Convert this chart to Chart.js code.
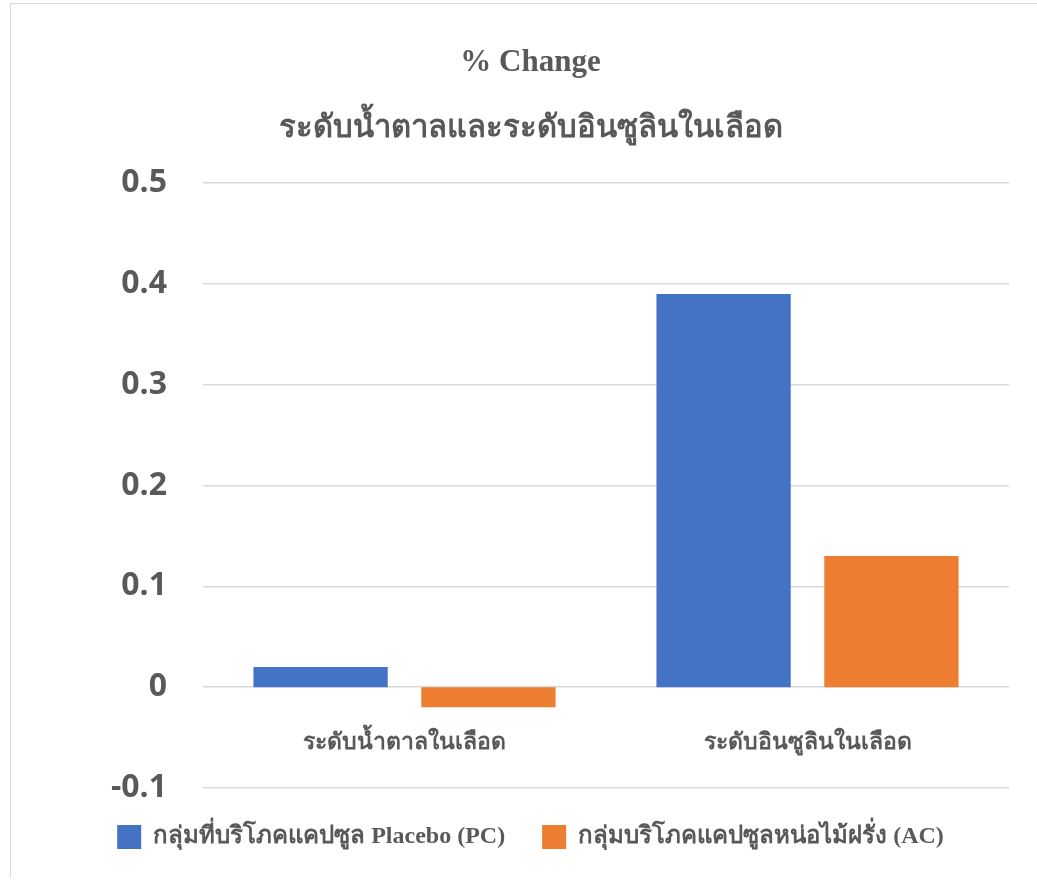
<!DOCTYPE html>
<html lang="th">
<head>
  <meta charset="UTF-8" />
  <title>% Change</title>
  <script src="https://cdn.jsdelivr.net/npm/chart.js"></script>
  <style>
    body {
      margin: 0;
      padding: 0;
      background-color: #ffffff;
      overflow: hidden;
    }
    .chart-container {
      position: absolute;
      left: 10px;
      top: 3px;
      width: 1040px;
      height: 875px;
      border-left: 1px solid #d9d9d9;
      border-top: 1px solid #d9d9d9;
      box-sizing: border-box;
    }
  </style>
</head>
<body>
  <div class="chart-container">
    <canvas id="changeChart"></canvas>
  </div>

  <script>
    const categories = ['ระดับน้ำตาลในเลือด', 'ระดับอินซูลินในเลือด'];
    const placeboValues = [0.02, 0.39];
    const bambooValues = [-0.02, 0.13];
    const seriesNames = ['กลุ่มที่บริโภคแคปซูล Placebo (PC)', 'กลุ่มบริโภคแคปซูลหน่อไม้ฝรั่ง (AC)'];
    const titleLines = ['% Change', 'ระดับน้ำตาลและระดับอินซูลินในเลือด'];

    const textColor = '#595959';
    const serif = '"Liberation Serif", "Times New Roman", serif';

    const ctx = document.getElementById('changeChart').getContext('2d');

    const chart = new Chart(ctx, {
      type: 'bar',
      data: {
        labels: categories,
        datasets: [
          {
            label: seriesNames[0],
            data: placeboValues,
            backgroundColor: '#4472C4',
            categoryPercentage: 0.833,
            barPercentage: 0.8
          },
          {
            label: seriesNames[1],
            data: bambooValues,
            backgroundColor: '#ED7D31',
            categoryPercentage: 0.833,
            barPercentage: 0.8
          }
        ]
      },
      options: {
        responsive: true,
        maintainAspectRatio: false,
        animation: false,
        layout: {
          padding: { top: 26, right: 41, bottom: 19, left: 41 }
        },
        plugins: {
          title: {
            display: true,
            text: titleLines,
            color: textColor,
            font: { family: serif, size: 31, weight: 'bold', lineHeight: 2.13 },
            padding: { top: 0, bottom: 21 }
          },
          legend: {
            display: true,
            position: 'bottom',
            labels: {
              color: textColor,
              boxWidth: 24,
              boxHeight: 24,
              padding: 37,
              font: { family: serif, size: 24, weight: 'bold' }
            }
          },
          tooltip: { enabled: false }
        },
        scales: {
          x: {
            position: { y: 0 },
            grid: { display: false },
            border: { display: false },
            ticks: {
              color: textColor,
              padding: 34,
              font: { family: serif, size: 23, weight: 'bold' }
            }
          },
          y: {
            min: -0.1,
            max: 0.5,
            afterFit: function(scale) {
              scale.width = 151;
            },
            grid: { color: '#d9d9d9', lineWidth: 1.5, drawTicks: false },
            border: { display: false },
            ticks: {
              stepSize: 0.1,
              color: textColor,
              padding: 36,
              font: { family: '"Open Sans", sans-serif', size: 32, weight: 'bold' },
              callback: function(value) {
                const v = Math.round(value * 10) / 10;
                return v === 0 ? '0' : String(v);
              }
            }
          }
        }
      }
    });
  </script>
</body>
</html>
